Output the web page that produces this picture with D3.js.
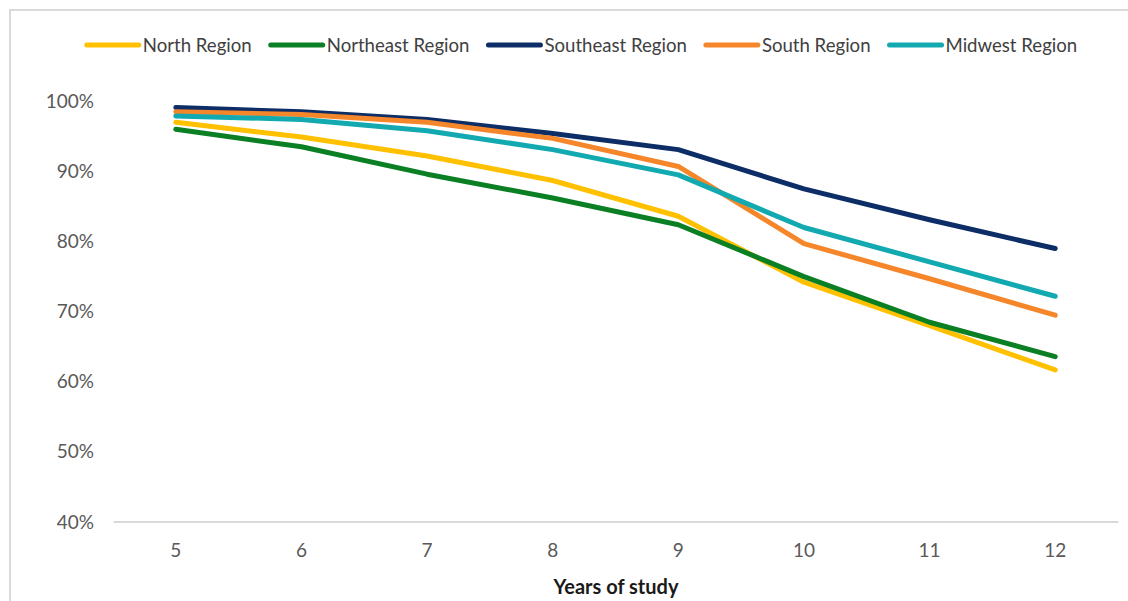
<!DOCTYPE html>
<html>
<head>
<meta charset="utf-8">
<script src="https://cdn.jsdelivr.net/npm/d3@7"></script>
<style>
  html, body { margin: 0; padding: 0; background: #ffffff; }
  svg { display: block; font-family: Lato, "Open Sans", sans-serif; }
</style>
</head>
<body>
<svg id="chart" width="1128" height="601"></svg>
<script>
// Share of students still enrolled, by years of study and region
const years = ["5", "6", "7", "8", "9", "10", "11", "12"];
const seriesNames = ["North Region", "Northeast Region", "Southeast Region", "South Region", "Midwest Region"];
const seriesColors = ["#FFC000", "#0B7F24", "#0C2D66", "#F5862A", "#12A9B1"];
const northValues     = [0.969, 0.948, 0.921, 0.886, 0.835, 0.741, 0.679, 0.616];
const northeastValues = [0.959, 0.934, 0.895, 0.861, 0.823, 0.749, 0.684, 0.635];
const southeastValues = [0.990, 0.984, 0.973, 0.953, 0.930, 0.874, 0.830, 0.789];
const southValues     = [0.984, 0.980, 0.969, 0.946, 0.906, 0.796, 0.746, 0.694];
const midwestValues   = [0.978, 0.973, 0.957, 0.930, 0.894, 0.819, 0.770, 0.721];
const yTicks = [0.4, 0.5, 0.6, 0.7, 0.8, 0.9, 1.0];
const xTitle = "Years of study";

const allSeries = [northValues, northeastValues, southeastValues, southValues, midwestValues]
  .map((values, i) => ({ name: seriesNames[i], color: seriesColors[i], values }));

const svg = d3.select("#chart");

// outer frame
svg.append("path")
  .attr("d", "M10,601 V10 H1128")
  .attr("fill", "none")
  .attr("stroke", "#d9d9d9")
  .attr("stroke-width", 2);

const x = d3.scaleBand().domain(years).range([113, 1118]);
const y = d3.scaleLinear().domain([0.4, 1.0]).range([521.5, 100.5]);
const xc = d => x(d) + x.bandwidth() / 2;

// y axis labels (no axis line)
const yAxis = svg.append("g")
  .attr("transform", "translate(94,0.5)")
  .call(d3.axisLeft(y).tickValues(yTicks).tickFormat(d3.format(".0%")).tickSize(0).tickPadding(0));
yAxis.select(".domain").remove();
yAxis.selectAll("text")
  .attr("fill", "#595959")
  .style("font-size", "19px")
  .style("font-family", "Lato, sans-serif");

// x axis baseline and labels
const xAxis = svg.append("g")
  .attr("transform", `translate(0,${y(0.4)})`)
  .call(d3.axisBottom(x).tickSize(0).tickPadding(22));
xAxis.select(".domain")
  .attr("stroke", "#d9d9d9")
  .attr("stroke-width", 2);
xAxis.selectAll("text")
  .attr("fill", "#595959")
  .style("font-size", "19px")
  .style("font-family", "Lato, sans-serif");

svg.append("text")
  .attr("x", 616)
  .attr("y", 594)
  .attr("text-anchor", "middle")
  .attr("fill", "#1a1a1a")
  .style("font-size", "20px")
  .style("font-weight", "bold")
  .text(xTitle);

// series lines
const line = d3.line()
  .x((d, i) => xc(years[i]))
  .y(d => y(d));

svg.append("g").selectAll("path")
  .data(allSeries)
  .join("path")
  .attr("d", d => line(d.values))
  .attr("fill", "none")
  .attr("stroke", d => d.color)
  .attr("stroke-width", 5)
  .attr("stroke-linecap", "round")
  .attr("stroke-linejoin", "round");

// legend
const legend = svg.append("g");
const items = legend.selectAll("g")
  .data(allSeries)
  .join("g");
items.append("line")
  .attr("x1", 2).attr("x2", 54)
  .attr("y1", 0).attr("y2", 0)
  .attr("stroke", d => d.color)
  .attr("stroke-width", 5)
  .attr("stroke-linecap", "round");
items.append("text")
  .attr("x", 58)
  .attr("dy", "0.35em")
  .attr("fill", "#404040")
  .style("font-size", "18.6px")
  .text(d => d.name);

let offset = 0;
const gap = 19;
const widths = items.nodes().map(n => n.getBBox().width);
const total = d3.sum(widths) + gap * (widths.length - 1);
const start = 580 - total / 2;
items.attr("transform", (d, i) => {
  const t = `translate(${start + offset},45)`;
  offset += widths[i] + gap;
  return t;
});
</script>
</body>
</html>
